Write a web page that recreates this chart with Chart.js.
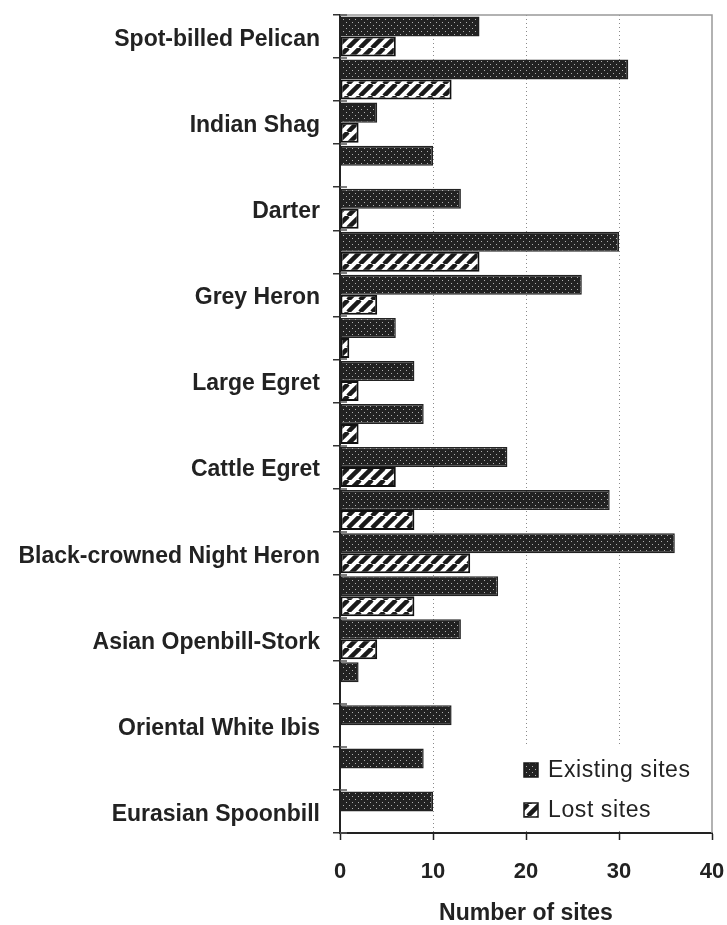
<!DOCTYPE html>
<html>
<head>
<meta charset="utf-8">
<script src="https://cdn.jsdelivr.net/npm/chart.js@4.4.0/dist/chart.umd.min.js"></script>
<style>body{margin:0;background:#fff}</style>
</head>
<body>
<canvas id="chart" width="727" height="925"></canvas>
<script>
const species = ['Spot-billed Pelican', '', 'Indian Shag', '', 'Darter', '', 'Grey Heron', '',
  'Large Egret', '', 'Cattle Egret', '', 'Black-crowned Night Heron', '', 'Asian Openbill-Stork', '',
  'Oriental White Ibis', '', 'Eurasian Spoonbill'];
const existingSites = [15, 31, 4, 10, 13, 30, 26, 6, 8, 9, 18, 29, 36, 17, 13, 2, 12, 9, 10];
const lostSites = [6, 12, 2, 0, 2, 15, 4, 1, 2, 2, 6, 8, 14, 8, 4, 0, 0, 0, 0];
const xMin = 0, xMax = 40, xStep = 10;

const FONT = '"Liberation Sans", Arial, sans-serif';

// fill patterns like the old excel ones
function dotPattern() {
  const c = document.createElement('canvas');
  c.width = 6; c.height = 6;
  const g = c.getContext('2d');
  g.fillStyle = '#222';
  g.fillRect(0, 0, 6, 6);
  g.fillStyle = '#b0b0b0';
  g.fillRect(1, 1, 1, 1);
  g.fillRect(4, 4, 1, 1);
  return g.createPattern(c, 'repeat');
}
function stripePattern() {
  const s = 12;
  const c = document.createElement('canvas');
  c.width = s; c.height = s;
  const g = c.getContext('2d');
  g.fillStyle = '#fff';
  g.fillRect(0, 0, s, s);
  g.strokeStyle = '#1a1a1a';
  g.lineWidth = 4.5;
  for (const x of [-s, 0, s]) {
    g.beginPath();
    g.moveTo(x, s);
    g.lineTo(x + s, 0);
    g.stroke();
  }
  return g.createPattern(c, 'repeat');
}

const canvas = document.querySelector('#chart');
const ctx = canvas.getContext('2d');
const dots = dotPattern();
const stripes = stripePattern();

const frame = {
  id: 'frame',
  beforeDatasetsDraw(chart) {
    const {ctx, chartArea: a, scales: {y}} = chart;
    ctx.save();
    ctx.strokeStyle = '#999';
    ctx.lineWidth = 1.5;
    ctx.beginPath();
    ctx.moveTo(a.left, a.top);
    ctx.lineTo(a.right, a.top);
    ctx.lineTo(a.right, a.bottom);
    ctx.stroke();
    // inner half of the category ticks
    const half = (y.getPixelForValue(1) - y.getPixelForValue(0)) / 2;
    ctx.strokeStyle = '#555';
    ctx.lineWidth = 1.5;
    for (let i = 0; i <= species.length; i++) {
      const py = Math.round(y.getPixelForValue(i) - half);
      ctx.beginPath();
      ctx.moveTo(a.left, py);
      ctx.lineTo(a.left + 7, py);
      ctx.stroke();
    }
    ctx.restore();
  },
  afterDraw(chart) {
    const {ctx, chartArea: a} = chart;
    ctx.save();
    ctx.fillStyle = '#fff';
    ctx.fillRect(a.right - 195, a.bottom - 86, 194, 84);
    const items = [['Existing sites', dots], ['Lost sites', stripes]];
    ctx.font = '23px ' + FONT;
    ctx.letterSpacing = '0.6px';
    ctx.textBaseline = 'middle';
    items.forEach(([txt, pat], i) => {
      const sy = a.bottom - 70 + i * 40;
      ctx.fillStyle = pat;
      ctx.fillRect(a.right - 188, sy, 14, 14);
      ctx.strokeStyle = '#1a1a1a';
      ctx.lineWidth = 1.5;
      ctx.strokeRect(a.right - 188, sy, 14, 14);
      ctx.fillStyle = '#222';
      ctx.fillText(txt, a.right - 164, sy + 8);
    });
    ctx.restore();
  }
};

new Chart(ctx, {
  type: 'bar',
  data: {
    labels: species,
    datasets: [{
      label: 'Existing sites',
      data: existingSites,
      backgroundColor: dots,
      borderColor: '#222',
      borderWidth: 1.5,
      borderSkipped: false
    }, {
      label: 'Lost sites',
      data: lostSites,
      backgroundColor: stripes,
      borderColor: '#111',
      borderWidth: 2,
      borderSkipped: false
    }]
  },
  options: {
    indexAxis: 'y',
    responsive: false,
    animation: false,
    layout: {padding: {top: 15, right: 15, left: 0, bottom: 0}},
    datasets: {bar: {categoryPercentage: 0.93, barPercentage: 1}},
    plugins: {legend: {display: false}, tooltip: {enabled: false}},
    scales: {
      y: {
        offset: true,
        afterFit(scale) {
          scale.width = 340;
          scale.paddingTop = 0;
          scale.paddingBottom = 0;
        },
        grid: {offset: true, drawOnChartArea: false, tickLength: 7, color: '#333', lineWidth: 1.5},
        border: {color: '#222', width: 2},
        ticks: {
          autoSkip: false,
          padding: 13,
          labelOffset: 3,
          color: '#222',
          font: {family: FONT, size: 23, weight: 'bold'}
        }
      },
      x: {
        min: xMin,
        max: xMax,
        afterFit(scale) {
          scale.height = 92;
          scale.paddingLeft = 0;
          scale.paddingRight = 0;
        },
        grid: {
          color: c => (c.tick && (c.tick.value === xMin || c.tick.value === xMax)) ? 'rgba(0,0,0,0)' : '#8a8a8a',
          lineWidth: 1,
          tickLength: 7,
          tickColor: '#222',
          tickWidth: 1.5,
          tickBorderDash: []
        },
        border: {color: '#222', width: 2, dash: [1, 3]},
        ticks: {
          stepSize: xStep,
          padding: 19,
          color: '#222',
          font: {family: FONT, size: 22, weight: 'bold'}
        },
        title: {
          display: true,
          text: 'Number of sites',
          color: '#222',
          padding: {top: 0, bottom: 0},
          font: {family: FONT, size: 23, weight: 'bold', lineHeight: 1}
        }
      }
    }
  },
  plugins: [frame]
});
</script>
</body>
</html>
